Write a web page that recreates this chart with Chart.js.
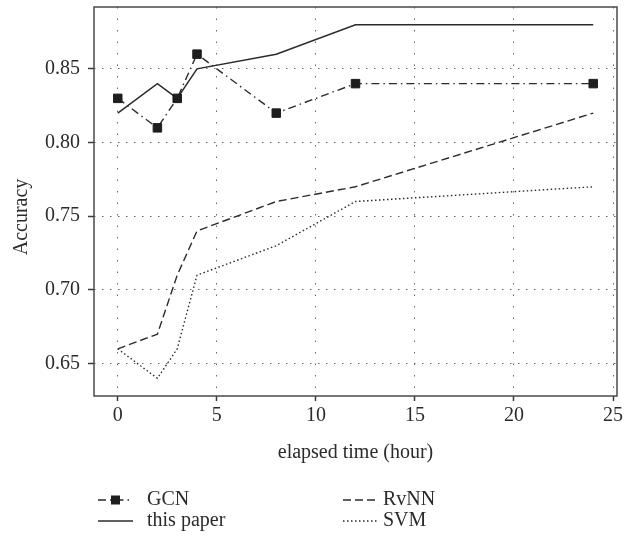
<!DOCTYPE html>
<html>
<head>
<meta charset="utf-8">
<script src="https://cdn.jsdelivr.net/npm/chart.js@4/dist/chart.umd.min.js"></script>
<style>
  html, body { margin: 0; padding: 0; background: #fff; }
  #wrap { width: 632px; height: 537px; }
</style>
</head>
<body>
<div id="wrap"><canvas id="chart1"></canvas></div>
<script>
// data
const hours = [0, 2, 3, 4, 8, 12, 24];
const gcn = [0.83, 0.81, 0.83, 0.86, 0.82, 0.84, 0.84];
const thisPaper = [0.82, 0.84, 0.83, 0.85, 0.86, 0.88, 0.88];
const rvnn = [0.66, 0.67, 0.71, 0.74, 0.76, 0.77, 0.82];
const svm = [0.66, 0.64, 0.66, 0.71, 0.73, 0.76, 0.77];

const xTicks = [0, 5, 10, 15, 20, 25];
const yTicks = [0.65, 0.70, 0.75, 0.80, 0.85];

const FONT = 'Liberation Serif';
const INK = '#2b2b2b';

function pts(ys) {
    return hours.map((h, i) => ({ x: h, y: ys[i] }));
}

// frame, y title and legend
const extras = {
    id: 'extras',
    afterDraw(chart) {
        const c = chart.ctx;
        const a = chart.chartArea;
        c.save();
        c.strokeStyle = '#4a4a4a';
        c.lineWidth = 1.5;
        c.strokeRect(a.left, a.top, a.right - a.left, a.bottom - a.top);

        c.fillStyle = INK;
        c.font = '20px "' + FONT + '"';
        c.textBaseline = 'middle';
        c.save();
        c.translate(22, 217);
        c.rotate(-Math.PI / 2);
        c.textAlign = 'center';
        c.fillText('Accuracy', 0, 0);
        c.restore();

        // legend, 2 columns
        const spots = [
            { x0: 98, x1: 133, tx: 147, y: 500 },
            { x0: 343, x1: 377, tx: 383, y: 500 },
            { x0: 98, x1: 133, tx: 147, y: 521 },
            { x0: 343, x1: 377, tx: 383, y: 521 },
        ];
        chart.data.datasets.forEach((ds, i) => {
            const s = spots[i];
            c.beginPath();
            c.setLineDash(ds.borderDash || []);
            c.strokeStyle = ds.borderColor;
            c.lineWidth = ds.borderWidth;
            c.moveTo(s.x0, s.y);
            c.lineTo(s.x1, s.y);
            c.stroke();
            c.setLineDash([]);
            if (ds.pointRadius > 0) {
                const m = (s.x0 + s.x1) / 2;
                c.fillStyle = ds.pointBackgroundColor;
                c.fillRect(m - 4.5, s.y - 4.5, 9, 9);
            }
            c.fillStyle = INK;
            c.textAlign = 'left';
            c.fillText(ds.label, s.tx, s.y);
        });
        c.restore();
    }
};

const ctx1 = document.getElementById('chart1');

new Chart(ctx1, {
    type: 'line',
    data: {
        datasets: [
            {
                label: 'GCN',
                data: pts(gcn),
                borderColor: INK,
                borderWidth: 1.4,
                borderDash: [8, 4, 1.5, 4],
                pointStyle: 'rect',
                pointRadius: 6,
                pointBorderWidth: 1,
                pointBackgroundColor: '#1e1e1e',
                pointBorderColor: '#1e1e1e',
                tension: 0,
            },
            {
                label: 'RvNN',
                data: pts(rvnn),
                borderColor: INK,
                borderWidth: 1.4,
                borderDash: [8, 4],
                pointRadius: 0,
                tension: 0,
            },
            {
                label: 'this paper',
                data: pts(thisPaper),
                borderColor: INK,
                borderWidth: 1.5,
                borderDash: [],
                pointRadius: 0,
                tension: 0,
            },
            {
                label: 'SVM',
                data: pts(svm),
                borderColor: INK,
                borderWidth: 1.4,
                borderDash: [1.5, 2.5],
                pointRadius: 0,
                tension: 0,
            },
        ]
    },
    plugins: [extras],
    options: {
        responsive: true,
        maintainAspectRatio: false,
        animation: false,
        layout: {
            padding: { left: 0, top: 6, right: 15, bottom: 72 }
        },
        plugins: {
            legend: { display: false },
            tooltip: { enabled: false },
        },
        scales: {
            x: {
                type: 'linear',
                min: -1.2,
                max: 25.2,
                afterBuildTicks(scale) {
                    scale.ticks = xTicks.map(v => ({ value: v }));
                },
                afterFit(scale) {
                    scale.height = 69;
                },
                border: { display: false, dash: [1.5, 10] },
                grid: {
                    color: '#666',
                    lineWidth: 1,
                    drawTicks: true,
                    tickLength: 5,
                    tickColor: '#3a3a3a',
                    tickWidth: 1.5,
                    tickBorderDash: [],
                },
                ticks: {
                    color: INK,
                    padding: 3,
                    maxRotation: 0,
                    font: { family: FONT, size: 20 },
                },
                title: {
                    display: true,
                    text: 'elapsed time (hour)',
                    color: INK,
                    padding: { top: 0, bottom: 0 },
                    font: { family: FONT, size: 20 },
                },
            },
            y: {
                type: 'linear',
                min: 0.628,
                max: 0.892,
                afterBuildTicks(scale) {
                    scale.ticks = yTicks.map(v => ({ value: v }));
                },
                afterFit(scale) {
                    scale.width = 94;
                    scale.paddingTop = 0;
                    scale.paddingBottom = 0;
                },
                border: { display: false, dash: [1.5, 6.5] },
                grid: {
                    color: '#666',
                    lineWidth: 1,
                    drawTicks: true,
                    tickLength: 6,
                    tickColor: '#3a3a3a',
                    tickWidth: 1.5,
                    tickBorderDash: [],
                },
                ticks: {
                    color: INK,
                    padding: 8,
                    font: { family: FONT, size: 20 },
                    callback: v => v.toFixed(2),
                },
            }
        }
    }
});
</script>
</body>
</html>
